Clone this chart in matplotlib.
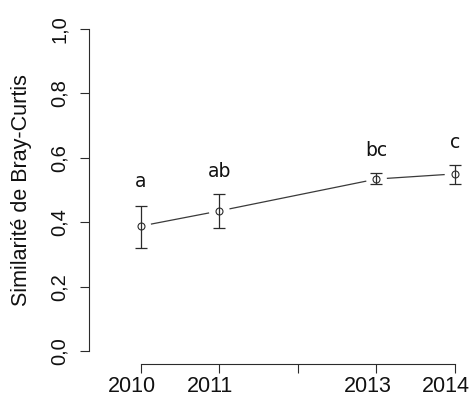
import numpy as np
import matplotlib
matplotlib.use("Agg")
import matplotlib.pyplot as plt
from matplotlib.transforms import ScaledTranslation

# values
years = [2010, 2011, 2013, 2014]
mean_sim = [0.388, 0.435, 0.534, 0.550]
err_low = [0.321, 0.382, 0.520, 0.520]
err_high = [0.451, 0.487, 0.554, 0.579]
letters = ["a", "ab", "bc", "c"]
letter_y = [0.509, 0.540, 0.606, 0.630]
xtick_pos = [2010, 2011, 2012, 2013, 2014]
xtick_lab = ["2010", "2011", "", "2013", "2014"]
ytick_pos = [0.0, 0.2, 0.4, 0.6, 0.8, 1.0]
ytick_lab = ["0,0", "0,2", "0,4", "0,6", "0,8", "1,0"]

plt.rcParams['font.family'] = ['Liberation Sans', 'DejaVu Sans']
ink = '#2b2b2b'

fig = plt.figure(figsize=(4.74, 4.03), dpi=100)
ax = fig.add_axes([89 / 474, 39 / 403, 381 / 474, 348 / 403])
ax.set_xlim(2009.342, 2014.19)
ax.set_ylim(-0.04, 1.04)

x = np.array(years, dtype=float)
y = np.array(mean_sim)
lo = y - np.array(err_low)
hi = np.array(err_high) - y

# error bars and open circles
ax.errorbar(x, y, yerr=[lo, hi], fmt='none', ecolor=ink, elinewidth=0.9,
            capsize=4.6, capthick=0.9)
ax.plot(x, y, 'o', ms=5, mfc='none', mec=ink, mew=0.8)

# connecting line with gaps round the points (like R type="b")
fig.canvas.draw()
pts = ax.transData.transform(np.column_stack([x, y]))
gap = 11.0
for i in range(len(pts) - 1):
    p0, p1 = pts[i], pts[i + 1]
    d = p1 - p0
    u = d / np.hypot(*d)
    a = ax.transData.inverted().transform(p0 + u * gap)
    b = ax.transData.inverted().transform(p1 - u * gap)
    ax.plot([a[0], b[0]], [a[1], b[1]], color='#3a3a3a', lw=0.9)

for xi, yi, s in zip(years, letter_y, letters):
    ax.text(xi, yi, s, ha='center', va='baseline', fontsize=13.5,
            family='DejaVu Sans', color='#111111')

for side in ['top', 'right']:
    ax.spines[side].set_visible(False)
ax.spines['left'].set_bounds(0, 1)
ax.spines['bottom'].set_bounds(2010, 2014)
for side in ['left', 'bottom']:
    ax.spines[side].set_color(ink)
    ax.spines[side].set_linewidth(0.8)

ax.set_xticks(xtick_pos)
ax.set_xticklabels(xtick_lab, fontsize=15.5)
ax.set_yticks(ytick_pos)
ax.set_yticklabels(ytick_lab, fontsize=14.5, rotation=90, va='center')
ax.tick_params(axis='both', length=6.5, width=0.8, color=ink, labelcolor='#111111')
ax.tick_params(axis='x', pad=2)
ax.tick_params(axis='y', pad=8)

# year labels sit a little left of their ticks in the reference
shift = ScaledTranslation(-9 / 100, 0, fig.dpi_scale_trans)
for lab in ax.get_xticklabels():
    lab.set_transform(lab.get_transform() + shift)

fig.text(22 / 474, (403 - 190) / 403, "Similarité de Bray-Curtis", rotation=90,
         ha='center', va='center', fontsize=15.5, color='#111111')

fig.savefig('out.png', dpi=100)
